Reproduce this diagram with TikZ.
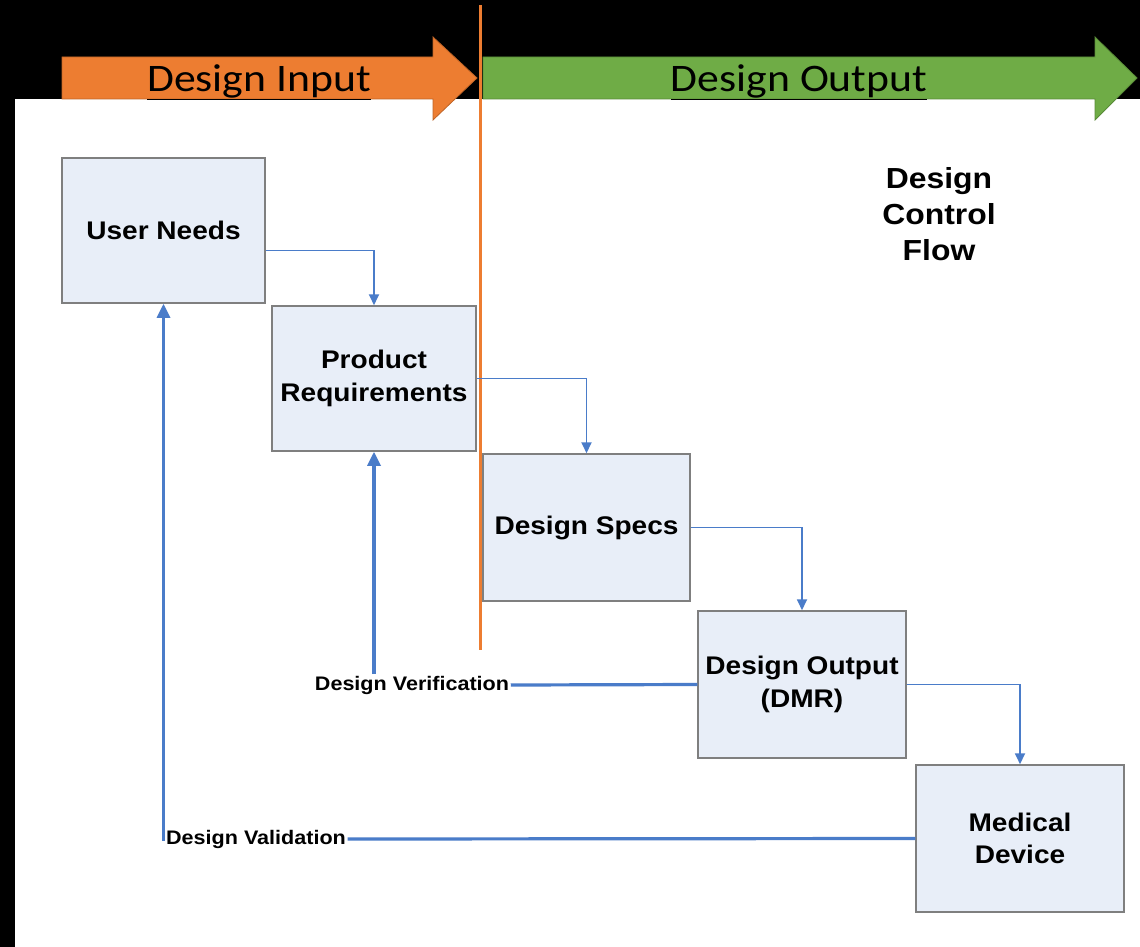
\documentclass[tikz,border=0pt]{standalone}
\usepackage{fontspec}
\setmainfont[FakeStretch=1.1]{Liberation Sans}
\newfontfamily\calib[FakeStretch=1.12]{Carlito}
\usetikzlibrary{arrows.meta}
\definecolor{boxfill}{HTML}{E8EEF8}
\definecolor{boxline}{HTML}{7F7F7F}
\definecolor{flowblue}{HTML}{4A7CC9}
\definecolor{orng}{HTML}{ED7D31}
\definecolor{grn}{HTML}{6FAC46}
\tikzset{
  blockbox/.style={draw=boxline, line width=1.5pt, fill=boxfill, align=center,
    font=\bfseries\fontsize{25.5}{32.5}\selectfont, inner sep=0pt},
  flow/.style={draw=flowblue, line width=1.8pt, -{Triangle[length=11pt,width=10pt]}},
  backflow/.style={draw=flowblue, line width=3.2pt},
  backflowarr/.style={backflow, -{Triangle[length=14pt,width=13pt]}},
  fblabel/.style={font=\bfseries\fontsize{19.6}{21}\selectfont, inner sep=1.5pt},
  phase/.style={font=\calib\fontsize{39}{42}\selectfont},
}
\begin{document}
\begin{tikzpicture}[x=1pt,y=-1pt]
\useasboundingbox (0,0) rectangle (1140,947);
\fill[black] (0,0) rectangle (1140,947);
\fill[white] (15,99) rectangle (1140,947);
% phase arrows
\draw[fill=orng, draw=orng!80!black, line width=0.8pt]
  (62,57) -- (433,57) -- (433,37) -- (477,78) -- (433,120) -- (433,99) -- (62,99) -- cycle;
\draw[fill=grn, draw=grn!80!black, line width=0.8pt]
  (483,57) -- (1095,57) -- (1095,37) -- (1137,78) -- (1095,120) -- (1095,99) -- (483,99) -- cycle;
\node[phase] (din) at (259,82) {\underline{Design Input}};
\node[phase] (dout) at (799,82) {\underline{Design Output}};
\draw[orng, line width=3pt] (480,5) -- (480,650);
% boxes
\node[blockbox, minimum width=203pt, minimum height=145pt] (un) at (163.5,230.5) {User Needs};
\node[blockbox, minimum width=204pt, minimum height=145pt] (pr) at (374,378.5) {Product\\Requirements};
\node[blockbox, minimum width=207pt, minimum height=147pt] (ds) at (586.5,527.5) {Design Specs};
\node[blockbox, minimum width=208pt, minimum height=147pt] (do) at (802,684.5) {Design Output\\(DMR)};
\node[blockbox, minimum width=208pt, minimum height=147pt] (md) at (1020,838.5) {Medical\\Device};
\node[align=center, font=\bfseries\fontsize{29}{36}\selectfont] (dcf) at (939,214) {Design\\Control\\Flow};
% forward flow
\draw[flow] ([yshift=-20pt]un.east) -| (pr.north);
\draw[flow] (pr.east) -| (ds.north);
\draw[flow] (ds.east) -| (do.north);
\draw[flow] (do.east) -| (md.north);
% feedback
\node[fblabel] (dver) at (412,685) {Design Verification};
\node[fblabel] (dval) at (256,839) {Design Validation};
\draw[backflow] (do.west) -- (dver.east);
\draw[backflowarr] (dver.north -| pr.south) -- (pr.south);
\draw[backflow] (md.west) -- (dval.east);
\draw[backflowarr] (dval.west) -| (un.south);
\end{tikzpicture}
\end{document}
